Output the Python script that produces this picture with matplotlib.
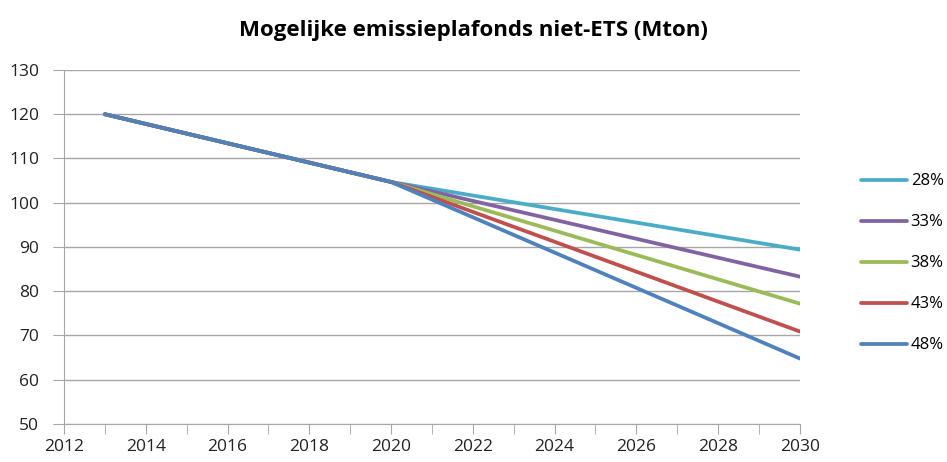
import matplotlib.pyplot as plt

# Data (Mton)
years = [2013, 2020, 2030]
labels = ['28%', '33%', '38%', '43%', '48%']
values = {
    '28%': [120.0, 104.7, 89.4],
    '33%': [120.0, 104.7, 83.3],
    '38%': [120.0, 104.7, 77.2],
    '43%': [120.0, 104.7, 70.9],
    '48%': [120.0, 104.7, 64.8],
}
colors = ['#4BACC6', '#8064A2', '#9BBB59', '#C0504D', '#4F81BD']

plt.rcParams['font.family'] = ['Open Sans', 'DejaVu Sans']

fig = plt.figure(figsize=(9.47, 4.62), dpi=100)
ax = fig.add_axes([0.0676, 0.0823, 0.777, 0.7662])

for lab, col in zip(labels, colors):
    ax.plot(years, values[lab], color=col, linewidth=2.7, label=lab,
            solid_capstyle='round')

ax.set_xlim(2012, 2030)
ax.set_ylim(50, 130)
ax.set_xticks(range(2012, 2031, 2))
ax.set_xticks(range(2012, 2031, 1), minor=True)
ax.set_yticks(range(50, 131, 10))
ax.grid(axis='y', color='#A6A6A6', linewidth=1)
ax.set_axisbelow(True)

for s in ['top', 'right']:
    ax.spines[s].set_visible(False)
for s in ['left', 'bottom']:
    ax.spines[s].set_color('#A6A6A6')

ax.tick_params(axis='both', which='both', color='#A6A6A6', labelsize=12.5,
               labelcolor='#222222')
ax.tick_params(axis='x', which='major', length=7, pad=4)
ax.tick_params(axis='x', which='minor', length=7)
ax.tick_params(axis='y', length=8, pad=10)

fig.text(0.5, 0.935, 'Mogelijke emissieplafonds niet-ETS (Mton)',
         ha='center', va='center', fontsize=16, fontweight='bold')

fig.legend(loc='center left', bbox_to_anchor=(0.9, 0.43), frameon=False,
           borderpad=0, handlelength=2.8, handletextpad=0.2,
           labelspacing=1.5, fontsize=12)

fig.savefig('out.png', dpi=100)
